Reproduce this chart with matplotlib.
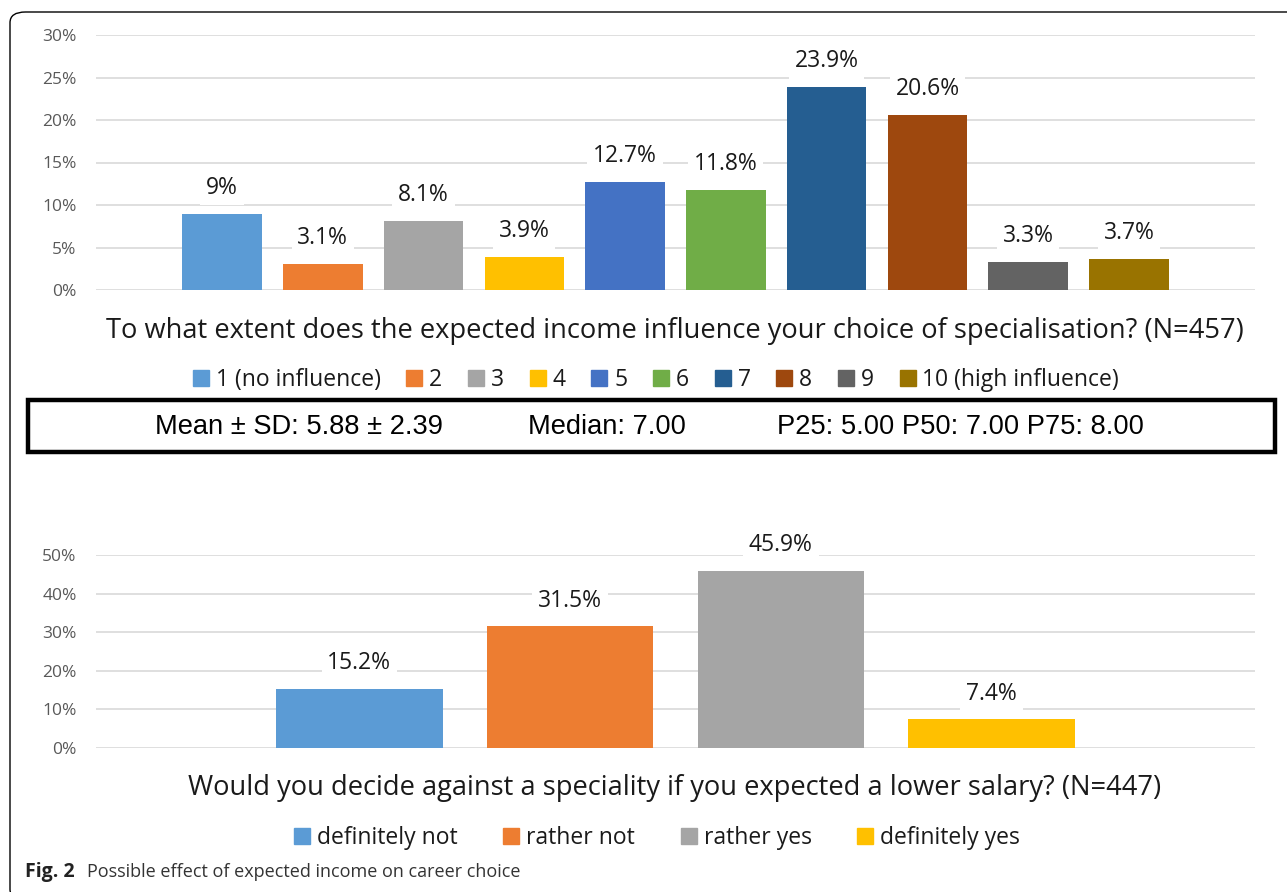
import matplotlib
matplotlib.use("Agg")
import matplotlib.pyplot as plt
from matplotlib.patches import Patch, FancyBboxPatch, Rectangle
from matplotlib.ticker import PercentFormatter

plt.rcParams['font.family'] = ['Open Sans', 'DejaVu Sans']

# ---- data ----
top_categories = ["1 (no influence)", "2", "3", "4", "5", "6", "7", "8", "9", "10 (high influence)"]
top_values = [9.0, 3.1, 8.1, 3.9, 12.7, 11.8, 23.9, 20.6, 3.3, 3.7]
top_labels = ["9%", "3.1%", "8.1%", "3.9%", "12.7%", "11.8%", "23.9%", "20.6%", "3.3%", "3.7%"]
top_colors = ["#5B9BD5", "#ED7D31", "#A5A5A5", "#FFC000", "#4472C4",
              "#70AD47", "#255E91", "#9E480E", "#636363", "#997300"]
top_title = "To what extent does the expected income influence your choice of specialisation? (N=457)"

bot_categories = ["definitely not", "rather not", "rather yes", "definitely yes"]
bot_values = [15.2, 31.5, 45.9, 7.4]
bot_labels = ["15.2%", "31.5%", "45.9%", "7.4%"]
bot_colors = ["#5B9BD5", "#ED7D31", "#A5A5A5", "#FFC000"]
bot_title = "Would you decide against a speciality if you expected a lower salary? (N=447)"

stats_texts = ["Mean \u00b1 SD: 5.88 \u00b1 2.39", "Median: 7.00", "P25: 5.00 P50: 7.00 P75: 8.00"]
caption_bold = "Fig. 2"
caption_text = "Possible effect of expected income on career choice"

W, H = 1287, 892
fig = plt.figure(figsize=(W / 100, H / 100), dpi=100)

def px_axes(x0, y_top, x1, y_bot):
    return fig.add_axes([x0 / W, 1 - y_bot / H, (x1 - x0) / W, (y_bot - y_top) / H])

def style_axes(ax, ymax, step):
    for s in ax.spines.values():
        s.set_visible(False)
    ax.set_ylim(0, ymax)
    ax.set_yticks([i * step for i in range(int(round(ymax / step)) + 1)])
    ax.yaxis.set_major_formatter(PercentFormatter(decimals=0))
    ax.tick_params(axis='y', length=0, labelsize=12.5, labelcolor="#595959", pad=14)
    ax.set_xticks([])
    ax.grid(axis='y', color="#D9D9D9", lw=1.2)
    ax.set_axisbelow(True)

def draw_bars(ax, vals, labels, colors):
    xs = list(range(len(vals)))
    ax.bar(xs, vals, width=0.79, color=colors, zorder=2)
    for x, v, l in zip(xs, vals, labels):
        ax.annotate(l, (x, v), xytext=(0, 10), textcoords="offset points",
                    ha="center", va="bottom", fontsize=16.5, color="#1a1a1a",
                    bbox=dict(boxstyle="square,pad=0.25", fc="white", ec="none"), zorder=3)
    ax.set_xlim(-1.25, len(vals) - 1 + 1.25)

# top chart
ax1 = px_axes(96, 35, 1255, 290)
style_axes(ax1, 30, 5)
draw_bars(ax1, top_values, top_labels, top_colors)

# bottom chart
ax2 = px_axes(96, 555, 1255, 748)
style_axes(ax2, 50, 10)
draw_bars(ax2, bot_values, bot_labels, bot_colors)

# titles
fig.text(675 / W, 1 - 331 / H, top_title, ha="center", va="center", fontsize=19.6, color="#1a1a1a")
fig.text(675 / W, 1 - 788 / H, bot_title, ha="center", va="center", fontsize=19.6, color="#1a1a1a")

# legends
h1 = [Patch(color=c, label=l) for c, l in zip(top_colors, top_categories)]
fig.legend(handles=h1, loc="center", bbox_to_anchor=(656 / W, 1 - 380 / H), ncol=10,
           frameon=False, fontsize=16.5, handlelength=0.7, handleheight=0.7,
           handletextpad=0.3, columnspacing=1.12, labelcolor="#1a1a1a")
h2 = [Patch(color=c, label=l) for c, l in zip(bot_colors, bot_categories)]
fig.legend(handles=h2, loc="center", bbox_to_anchor=(657 / W, 1 - 838 / H), ncol=4,
           frameon=False, fontsize=16.5, handlelength=0.7, handleheight=0.7,
           handletextpad=0.3, columnspacing=2.0, labelcolor="#1a1a1a")

# stats box
fig.patches.append(Rectangle((28 / W, 1 - 452 / H), (1275 - 28) / W, 52 / H,
                             transform=fig.transFigure, fill=False, ec="black", lw=3.2))
for x, t in zip([155, 528, 777], stats_texts):
    fig.text(x / W, 1 - 427 / H, t, ha="left", va="center", fontsize=19.6,
             family=["Liberation Sans", "DejaVu Sans"], color="black")

# outer rounded frame (right and bottom edges fall outside the image)
fig.patches.append(FancyBboxPatch((10 / W, 1 - 900 / H), (1310 - 10) / W, (900 - 12) / H,
                                  boxstyle="round,pad=0,rounding_size=0.012",
                                  transform=fig.transFigure, fill=False, ec="black", lw=1.0))

# caption
fig.text(25 / W, 1 - 872 / H, caption_bold, ha="left", va="center", fontsize=14,
         fontweight="bold", color="#222222")
fig.text(87 / W, 1 - 872 / H, caption_text, ha="left", va="center", fontsize=13,
         color="#333333")

fig.savefig("out.png", dpi=100)
